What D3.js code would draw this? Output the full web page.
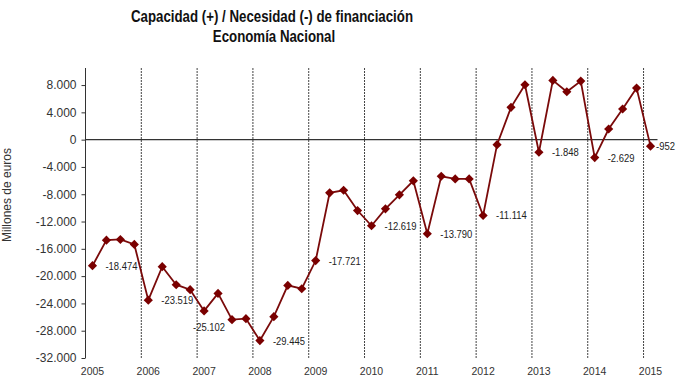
<!DOCTYPE html>
<html>
<head>
<meta charset="utf-8">
<script src="https://cdn.jsdelivr.net/npm/d3@7"></script>
<style>
  body { margin: 0; background: #fff; }
  svg { font-family: "Liberation Sans", Arial, sans-serif; }
</style>
</head>
<body>
<div id="chart"></div>
<script>
let svgWidth = 680;
let svgHeight = 386;

let margin = {
  top: 68,
  right: 22.5,
  bottom: 28,
  left: 85.5
};

let width = svgWidth - margin.left - margin.right;
let height = svgHeight - margin.top - margin.bottom;

// Data: quarterly values, millions of euros
let years = [2005, 2006, 2007, 2008, 2009, 2010, 2011, 2012, 2013, 2014, 2015];
let quarterNames = ["T1", "T2", "T3", "T4"];
let values = [
  -18474, -14730, -14630, -15360,
  -23519, -18620, -21260, -21990,
  -25102, -22530, -26380, -26230,
  -29445, -25940, -21360, -21850,
  -17721, -7800, -7420, -10390,
  -12619, -10140, -8090, -6040,
  -13790, -5370, -5750, -5750,
  -11114, -730, 4730, 8050,
  -1848, 8680, 7020, 8580,
  -2629, 1560, 4490, 7560,
  -952
];
let yTicks = [8000, 4000, 0, -4000, -8000, -12000, -16000, -20000, -24000, -28000, -32000];

// build quarter rows
let data = values.map((v, i) => ({
  key: years[Math.floor(i / 4)] + "-" + quarterNames[i % 4],
  year: years[Math.floor(i / 4)],
  q: i % 4,
  value: v
}));

let es = d3.formatLocale({ decimal: ",", thousands: ".", grouping: [3], currency: ["", "€"], minus: "-" });
let fmt = es.format(",d");

let svg = d3.select("#chart")
  .append("svg")
  .attr("width", svgWidth)
  .attr("height", svgHeight);

// Title (reference font is a bit condensed, so squeeze it horizontally)
let titleLines = ["Capacidad (+) / Necesidad (-) de financiación", "Economía Nacional"];
svg.selectAll(".title")
  .data(titleLines)
  .enter()
  .append("text")
  .attr("class", "title")
  .attr("transform", (d, i) => `translate(${i === 0 ? 272 : 274}, ${22 + i * 20}) scale(0.83, 1)`)
  .attr("text-anchor", "middle")
  .attr("font-size", "16px")
  .attr("font-weight", "bold")
  .attr("fill", "#111")
  .text(d => d);

let chartGroup = svg.append("g")
  .attr("transform", `translate(${margin.left}, ${margin.top})`);

let x = d3.scaleBand()
  .domain(data.map(d => d.key))
  .range([0, width])
  .padding(0);

let y = d3.scaleLinear()
  .domain([-32000, 10500])
  .range([height, 0]);

let cx = d => x(d.key) + x.bandwidth() / 2;

// dashed year separators
let q1 = data.filter(d => d.q === 0 && d.year > 2005);
chartGroup.selectAll(".yearLine")
  .data(q1)
  .enter()
  .append("line")
  .attr("class", "yearLine")
  .attr("x1", d => x(d.key))
  .attr("x2", d => x(d.key))
  .attr("y1", 0)
  .attr("y2", height)
  .attr("stroke", "#444")
  .attr("stroke-width", 1)
  .attr("stroke-dasharray", "2,1");

// zero line
chartGroup.append("line")
  .attr("x1", 0)
  .attr("x2", width)
  .attr("y1", y(0))
  .attr("y2", y(0))
  .attr("stroke", "#333")
  .attr("stroke-width", 1.3);

// y axis
let leftAxis = d3.axisLeft(y)
  .tickValues(yTicks)
  .tickSize(4)
  .tickPadding(5)
  .tickFormat(d => fmt(d));

let yAxisG = chartGroup.append("g")
  .call(leftAxis);
yAxisG.select(".domain")
  .attr("stroke", "#333")
  .attr("d", `M0,0V${height}`);
yAxisG.selectAll(".tick line").attr("stroke", "#333");
yAxisG.selectAll("text")
  .attr("font-family", null)
  .attr("font-size", "12px")
  .attr("fill", "#333");

// year labels under Q1 points
chartGroup.selectAll(".yearLabel")
  .data(data.filter(d => d.q === 0))
  .enter()
  .append("text")
  .attr("class", "yearLabel")
  .attr("x", d => cx(d))
  .attr("y", height + 17)
  .attr("text-anchor", "middle")
  .attr("font-size", "10.5px")
  .attr("fill", "#333")
  .text(d => d.year);

// y axis title
svg.append("text")
  .attr("transform", "rotate(-90)")
  .attr("x", -195)
  .attr("y", 11)
  .attr("text-anchor", "middle")
  .attr("font-size", "12px")
  .attr("fill", "#333")
  .text("Millones de euros");

// line
let line = d3.line()
  .x(d => cx(d))
  .y(d => y(d.value));

chartGroup.append("path")
  .datum(data)
  .attr("fill", "none")
  .attr("stroke", "#7a0a0a")
  .attr("stroke-width", 1.8)
  .attr("d", line);

// diamond markers
chartGroup.selectAll(".marker")
  .data(data)
  .enter()
  .append("path")
  .attr("class", "marker")
  .attr("d", d3.symbol().type(d3.symbolSquare).size(42))
  .attr("transform", d => `translate(${cx(d)}, ${y(d.value)}) rotate(45)`)
  .attr("fill", "#7a0000");

// Q1 value labels, to the right of the marker (below for 2007), kept inside the svg
let labelScale = 0.9;
chartGroup.selectAll(".valLabel")
  .data(data.filter(d => d.q === 0))
  .enter()
  .append("text")
  .attr("class", "valLabel")
  .attr("font-size", "10.5px")
  .attr("fill", "#222")
  .text(d => fmt(d.value))
  .attr("transform", function(d) {
    let w = this.getComputedTextLength() * labelScale;
    let lx = d.year === 2007 ? cx(d) - 11 : cx(d) + 13;
    lx = Math.min(lx, svgWidth - margin.left - 5 - w);
    let ly = d.year === 2007 ? y(d.value) + 20 : y(d.value) + 4;
    return `translate(${lx}, ${ly}) scale(${labelScale}, 1)`;
  });
</script>
</body>
</html>
